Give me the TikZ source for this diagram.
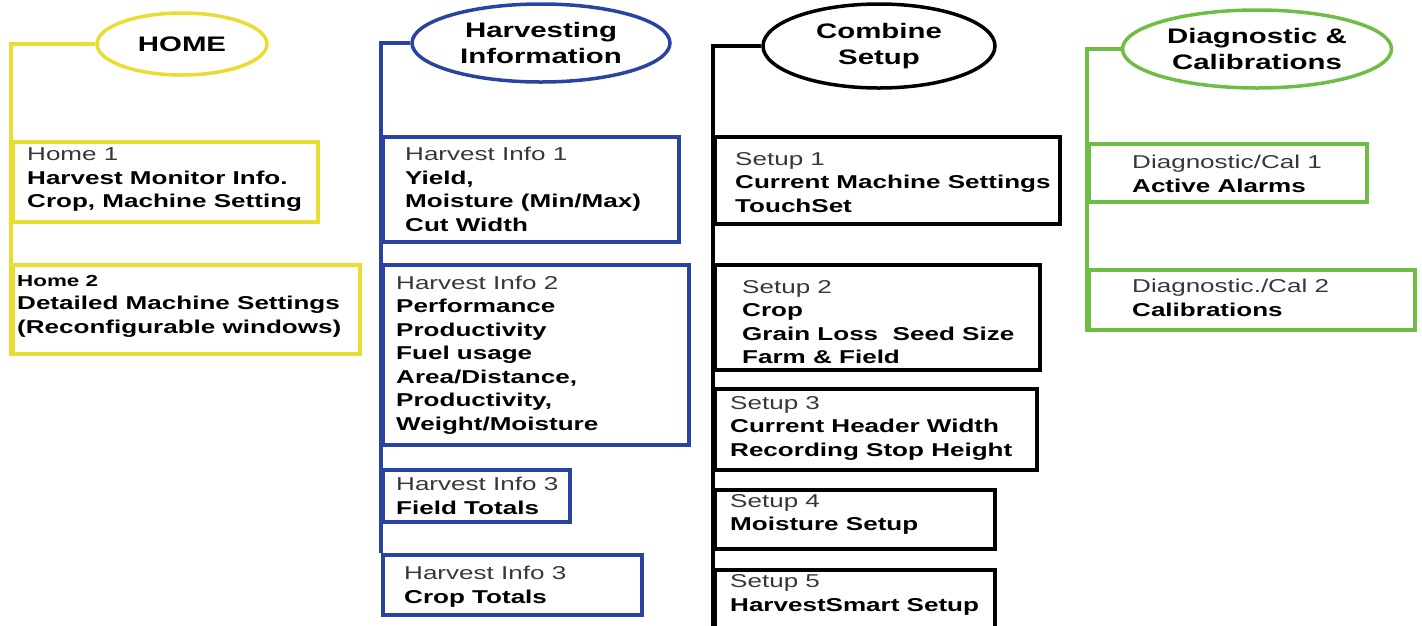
\documentclass[tikz,border=0pt]{standalone}
\usepackage{fontspec}
\setmainfont{Liberation Sans}[FakeStretch=1.4]
\usetikzlibrary{shapes.geometric,calc}
\definecolor{homeyellow}{RGB}{232,222,50}
\definecolor{infoblue}{RGB}{40,68,160}
\definecolor{diaggreen}{RGB}{110,190,70}
\definecolor{subgray}{RGB}{55,55,55}
\newcommand{\subhd}[1]{{\mdseries\color{subgray}#1}}

\begin{document}
\begin{tikzpicture}[x=1pt,y=-1pt,
  menu/.style={ellipse,draw,line width=3.5pt,inner sep=0pt,align=center,
    font=\fontsize{21}{26}\selectfont\bfseries},
  panel/.style n args={2}{draw,line width=3.5pt,inner sep=0pt,anchor=north west,
    minimum width=#1pt,minimum height=#2pt},
  txt/.style={anchor=west,align=left,inner sep=0pt,
    font=\fontsize{18.6}{23.5}\selectfont\bfseries},
  wire/.style={line width=3.5pt}]
\clip (0,0) rectangle (1422,625);

% top level menus
\node[menu,homeyellow,text=black,minimum width=170pt,minimum height=62pt] (home) at (182,44) {HOME};
\node[menu,infoblue,text=black,minimum width=258pt,minimum height=78pt] (hinfo) at (541,43) {Harvesting\\Information};
\node[menu,black,minimum width=232pt,minimum height=84pt] (combine) at (879,46) {Combine\\Setup};
\node[menu,diaggreen,text=black,minimum width=269pt,minimum height=78pt] (diag) at (1257,49) {Diagnostic \&\\Calibrations};

% home pages
\node[panel={305}{80},homeyellow] (h1) at (11,140) {};
\node[panel={347}{89},homeyellow] (h2) at (11,263) {};
\node[txt] (h1t) at ($(h1.west)+(16,-2)$) {\subhd{Home 1}\\Harvest Monitor Info.\\Crop, Machine Setting};
\node[txt] (h2t) at ($(h2.west)+(6,-3)$) {{\fontsize{16}{23.5}\selectfont Home 2}\\Detailed Machine Settings\\(Reconfigurable windows)};

% harvesting information pages
\node[panel={296}{105},infoblue] (hi1) at (381,135) {};
\node[panel={306}{180},infoblue] (hi2) at (381,263) {};
\node[panel={187}{52},infoblue] (hi3) at (381,468) {};
\node[panel={259}{60},infoblue] (hi4) at (381,553) {};
\node[txt] (hi1t) at ($(hi1.west)+(24,0)$) {\subhd{Harvest Info 1}\\Yield,\\Moisture (Min/Max)\\Cut Width};
\node[txt] (hi2t) at ($(hi2.west)+(15,0)$) {\subhd{Harvest Info 2}\\Performance\\Productivity\\Fuel usage\\Area/Distance,\\Productivity,\\Weight/Moisture};
\node[txt] (hi3t) at ($(hi3.west)+(15,0)$) {\subhd{Harvest Info 3}\\Field Totals};
\node[txt] (hi4t) at ($(hi4.west)+(23,2)$) {\subhd{Harvest Info 3}\\Crop Totals};

% combine setup pages
\node[panel={345}{87}] (s1) at (713,135) {};
\node[panel={325}{105}] (s2) at (713,263) {};
\node[panel={322}{81}] (s3) at (713,387) {};
\node[panel={280}{59}] (s4) at (713,488) {};
\node[panel={280}{70}] (s5) at (713,568) {};
\node[txt] (s1t) at ($(s1.west)+(22,2)$) {\subhd{Setup 1}\\Current Machine Settings\\TouchSet};
\node[txt] (s2t) at ($(s2.west)+(29,5)$) {\subhd{Setup 2}\\Crop\\Grain Loss\ \ Seed Size\\Farm \& Field};
\node[txt] (s3t) at ($(s3.west)+(17,-1)$) {\subhd{Setup 3}\\Current Header Width\\Recording Stop Height};
\node[txt] (s4t) at ($(s4.west)+(17,-5)$) {\subhd{Setup 4}\\Moisture Setup};
\node[txt] (s5t) at ($(s5.west)+(17,-10)$) {\subhd{Setup 5}\\HarvestSmart Setup};

% diagnostic pages
\node[panel={278}{58},diaggreen] (c1) at (1087,142) {};
\node[panel={326}{60},diaggreen] (c2) at (1087,268) {};
\node[txt] (c1t) at ($(c1.west)+(45,1)$) {\subhd{Diagnostic/Cal 1}\\Active Alarms};
\node[txt] (c2t) at ($(c2.west)+(45,-2)$) {\subhd{Diagnostic./Cal 2}\\Calibrations};

% spines
\draw[wire,homeyellow] (home.west) -| (h2.south west);
\draw[wire,infoblue] (hinfo.west) -| (hi4.north west);
\draw[wire,black] (combine.west) -| (s5.south west);
\draw[wire,diaggreen] (diag.west) -| (c2.south west);
\end{tikzpicture}
\end{document}
